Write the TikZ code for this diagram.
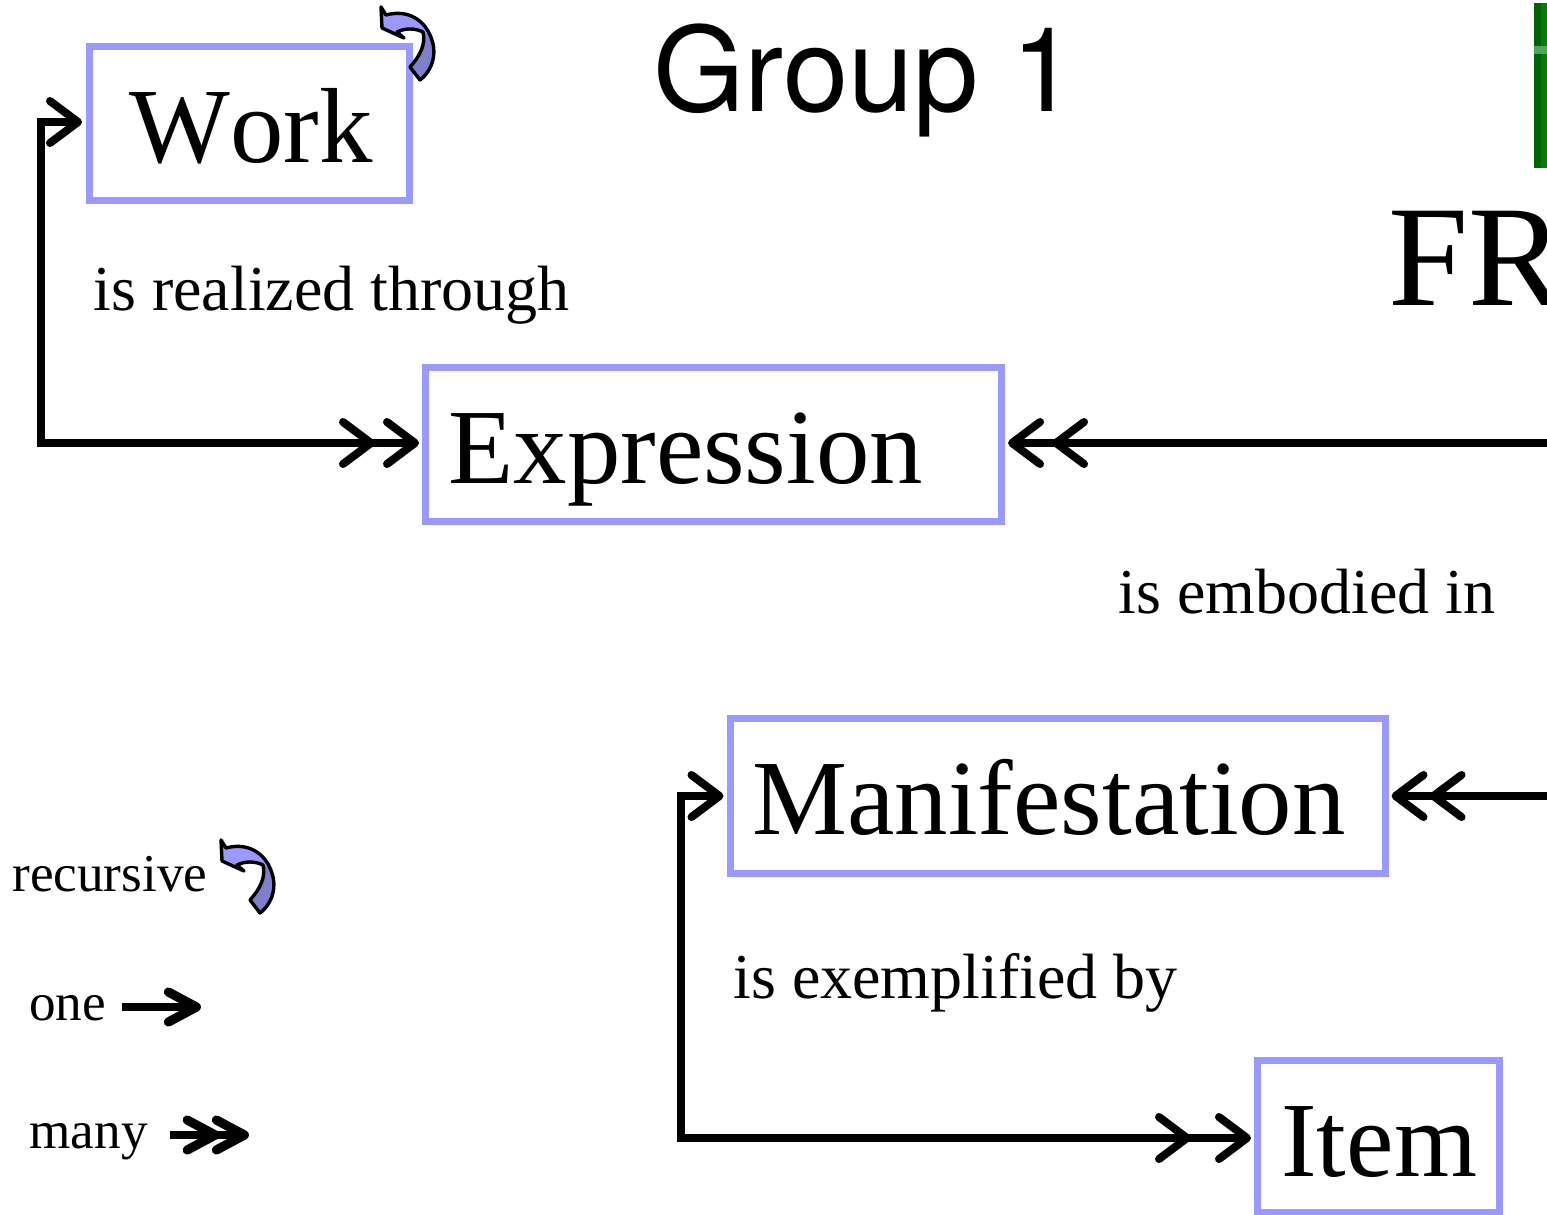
\documentclass[tikz,border=0pt]{standalone}
\usepackage{fontspec}
\setmainfont[Kerning=Off]{Liberation Serif}
\newfontfamily\labelsans{TeX Gyre Heros}
\usetikzlibrary{arrows.meta}
\definecolor{boxblue}{HTML}{9999FF}
\definecolor{curvelow}{HTML}{7F7FCC}
\definecolor{bargreen}{HTML}{0A7A0A}
\definecolor{bardark}{HTML}{006400}
\definecolor{barlight}{HTML}{4FA84F}
\tikzset{
  x=0.5pt,y=-0.5pt,
  entity/.style={draw=boxblue,line width=3.5pt,fill=white,inner sep=0pt},
  entitytext/.style={inner sep=0pt,anchor=base west,font=\fontsize{53.4}{53}\selectfont},
  rel/.style={inner sep=0pt,font=\fontsize{32}{32}\selectfont,anchor=base west},
  legend/.style={inner sep=0pt,font=\fontsize{26.6}{27}\selectfont,anchor=base west},
  link/.style={draw=black,line width=4pt,line join=miter},
  legendlink/.style={draw=black,line width=4pt},
  onetip/.tip={Straight Barb[length=14pt,width=21pt,line width=4pt,round]},
  smalltip/.tip={Straight Barb[length=14pt,width=15pt,line width=4.6pt,round]},
  recur/.pic={
    \path[fill=boxblue] (381,7) -- (382,28) -- (404,38) -- (397,32)
      .. controls (405,28) and (415,28) .. (423,32)
      .. controls (426,44) and (420,56) .. (410,67)
      -- (420,80) .. controls (433,70) and (438,52) .. (430,35)
      .. controls (426,25) and (412,8) .. (386,15) -- cycle;
    \begin{scope}
      \clip (400,33) rectangle (445,85);
      \path[fill=curvelow] (423,32)
        .. controls (426,44) and (420,56) .. (410,67)
        -- (420,80) .. controls (433,70) and (438,52) .. (430,35) -- cycle;
    \end{scope}
    \draw[black,line width=1.7pt,line join=round] (381,7) -- (382,28) -- (404,38) -- (397,32)
      .. controls (405,28) and (415,28) .. (423,32)
      .. controls (426,44) and (420,56) .. (410,67)
      -- (420,80) .. controls (433,70) and (438,52) .. (430,35)
      .. controls (426,25) and (412,8) .. (386,15) -- cycle;
  }
}
\begin{document}
\begin{tikzpicture}
\useasboundingbox (0,0) rectangle (1547,1215);
\clip (0,0) rectangle (1547,1215);

\node[entity,minimum width=160pt,minimum height=77pt] (work) at (249.5,123.5) {};
\node[entity,minimum width=288pt,minimum height=77pt] (expr) at (713.5,444) {};
\node[entity,minimum width=327.5pt,minimum height=77.5pt] (manif) at (1057.5,796) {};
\node[entity,minimum width=121pt,minimum height=76pt] (item) at (1378.5,1136) {};

\node[entitytext] (workt) at (129,162) {Work};
\node[entitytext] (exprt) at (448,483) {Expression};
\node[entitytext] (maniftt) at (752,834) {Manifestation};
\node[entitytext] (itemt) at (1281,1176) {Item};

\node[inner sep=0pt,anchor=base west,font=\labelsans\fontsize{58.7}{59}\selectfont] (group) at (653,111) {Group 1};
\node[inner sep=0pt,anchor=base west,font=\fontsize{72}{72}\selectfont] (frbr) at (1388,305) {FR};
\fill[bardark] (1534,3) rectangle (1541,168);
\fill[bargreen] (1541,3) rectangle (1547,168);
\fill[barlight] (1534,46) rectangle (1547,54);

\node[rel] (realized) at (93,310) {is realized through};
\node[rel] (embodied) at (1118,613) {is embodied in};
\node[rel] (exempl) at (733,998) {is exemplified by};

\coordinate (workbend) at (41,122);
\coordinate (expredge) at (1547,443);
\coordinate (manifedge) at (1547,796);
\coordinate (manifbend) at (681,796);

\draw[link,{onetip}-{onetip[sep=4pt]onetip}] ([xshift=-2pt,yshift=0.75pt]work.west) -- (workbend) |- ([xshift=-1.5pt,yshift=0.5pt]expr.west);
\draw[link,-{onetip[sep=4pt]onetip}] (expredge) -- ([xshift=1.5pt,yshift=0.5pt]expr.east);
\draw[link,-{onetip[sep=1pt]onetip}] (manifedge) -- ([xshift=1.5pt]manif.east);
\draw[link,{onetip}-{onetip[sep=12pt]onetip}] ([xshift=-1.5pt]manif.west) -- (manifbend) |- ([xshift=-1.5pt,yshift=-1pt]item.west);

\node[legend] (lrec) at (12,891) {recursive};
\node[legend] (lone) at (29,1020) {one};
\node[legend] (lmany) at (29,1148) {many};
\coordinate (ones) at (122,1007);
\coordinate (onee) at (201,1007);
\coordinate (manys) at (170,1135);
\coordinate (manye) at (249,1135);
\draw[legendlink,-{smalltip}] (ones) -- (onee);
\draw[legendlink,-{smalltip[sep=-4pt]smalltip}] (manys) -- (manye);

\pic at (0,0) {recur};
\begin{scope}[shift={(-160,833)}]
\pic at (0,0) {recur};
\end{scope}
\end{tikzpicture}
\end{document}
